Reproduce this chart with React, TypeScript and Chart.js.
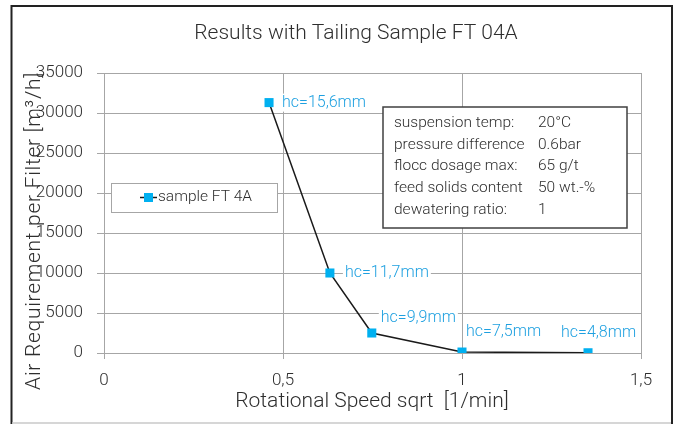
import { useEffect, useRef } from 'react';
import { Chart, registerables } from 'chart.js';

Chart.register(...registerables);

const chartTitle = 'Results with Tailing Sample FT 04A';
const xAxisTitle = 'Rotational Speed sqrt  [1/min]';
const yAxisTitle = 'Air Requirement per Filter [m³/h]';
const seriesName = 'sample FT 4A';
const speedSqrt = [0.461, 0.631, 0.748, 1.0, 1.352];
const airRequirement = [31300, 10000, 2500, 120, 30];
const cakeHeights = ['hc=15,6mm', 'hc=11,7mm', 'hc=9,9mm', 'hc=7,5mm', 'hc=4,8mm'];
const xMin = 0;
const xMax = 1.5;
const xStep = 0.5;
const yMin = 0;
const yMax = 35000;
const yStep = 5000;
const infoLabels = ['suspension temp:', 'pressure difference', 'flocc dosage max:', 'feed solids content', 'dewatering ratio:'];
const infoValues = ['20°C', '0.6bar', '65 g/t', '50 wt.-%', '1'];

const FONT = 'Roboto, "Noto Sans", sans-serif';
const W = '300';
const TEXT = '#2e2e2e';
const GRID = '#a6a6a6';
const MARK = '#00b0f0';
const LABEL = '#1ea0e0';

// label placement relative to each point (style only)
const labelOffsets = [
  [13, 0],
  [15, 0],
  [9, -15],
  [4, -20],
  [-27, -20],
];

const decorPlugin = {
  id: 'decor',
  beforeDraw(chart: any) {
    const ctx = chart.ctx;
    ctx.save();
    ctx.fillStyle = '#ffffff';
    ctx.fillRect(0, 0, chart.width, chart.height);
    ctx.restore();
  },
  afterDatasetsDraw(chart: any) {
    const ctx = chart.ctx;
    const area = chart.chartArea;
    const meta = chart.getDatasetMeta(0);
    ctx.save();

    // data labels
    ctx.font = `${W} 16px ${FONT}`;
    ctx.textBaseline = 'middle';
    ctx.textAlign = 'left';
    meta.data.forEach((pt: any, i: number) => {
      const [dx, dy] = labelOffsets[i];
      const tx = pt.x + dx;
      const ty = pt.y + dy;
      const w = ctx.measureText(cakeHeights[i]).width;
      ctx.fillStyle = '#ffffff';
      ctx.fillRect(tx - 2, ty - 9, w + 4, 18);
      ctx.fillStyle = LABEL;
      ctx.fillText(cakeHeights[i], tx, ty);
    });

    // legend box
    const ds = chart.data.datasets[0];
    const lx = area.left + 7;
    const ly = area.top + 110;
    ctx.fillStyle = '#ffffff';
    ctx.fillRect(lx, ly, 166, 29);
    ctx.strokeStyle = GRID;
    ctx.lineWidth = 1;
    ctx.strokeRect(lx + 0.5, ly + 0.5, 166, 29);
    const cy = ly + 14.5;
    ctx.strokeStyle = ds.borderColor;
    ctx.lineWidth = 1.5;
    ctx.beginPath();
    ctx.moveTo(lx + 29, cy);
    ctx.lineTo(lx + 46, cy);
    ctx.stroke();
    ctx.fillStyle = ds.pointBackgroundColor;
    ctx.fillRect(lx + 33, cy - 4.5, 9, 9);
    ctx.fillStyle = TEXT;
    ctx.font = `${W} 15.5px ${FONT}`;
    ctx.textAlign = 'left';
    ctx.fillText(ds.label, lx + 47, cy);

    // info box
    const bx = area.left + 279;
    const by = area.top + 34;
    const bw = 244;
    const bh = 121;
    ctx.fillStyle = '#ffffff';
    ctx.fillRect(bx, by, bw, bh);
    ctx.strokeStyle = '#404040';
    ctx.lineWidth = 1.5;
    ctx.strokeRect(bx, by, bw, bh);
    ctx.fillStyle = TEXT;
    ctx.font = `${W} 15.5px ${FONT}`;
    infoLabels.forEach((lab, i) => {
      const yy = by + 16 + i * 21.7;
      ctx.fillText(lab, bx + 11, yy);
      ctx.fillText(infoValues[i], bx + 155, yy);
    });

    ctx.restore();
  },
  afterDraw(chart: any) {
    const ctx = chart.ctx;
    const area = chart.chartArea;
    ctx.save();
    ctx.fillStyle = TEXT;
    ctx.textAlign = 'center';
    ctx.textBaseline = 'middle';
    ctx.font = `${W} 21px ${FONT}`;
    ctx.fillText(chartTitle, 356, 34);
    ctx.fillText(xAxisTitle, 372, area.bottom + 49);
    ctx.save();
    ctx.translate(35, 231);
    ctx.rotate(-Math.PI / 2);
    (ctx as any).letterSpacing = '0.7px';
    ctx.fillText(yAxisTitle, 0, 0);
    ctx.restore();

    // frame
    ctx.strokeStyle = '#222222';
    ctx.lineWidth = 2;
    ctx.beginPath();
    ctx.moveTo(11.5, 424);
    ctx.lineTo(11.5, 6);
    ctx.lineTo(672, 6);
    ctx.lineTo(672, 424);
    ctx.stroke();
    ctx.strokeStyle = '#c8c8c8';
    ctx.lineWidth = 1.5;
    ctx.beginPath();
    ctx.moveTo(12, 423);
    ctx.lineTo(671, 423);
    ctx.stroke();
    ctx.restore();
  },
};

export default function App() {
  const ref = useRef<HTMLCanvasElement>(null);
  useEffect(() => {
    if (!ref.current) return;
    const chart = new Chart(ref.current, {
      type: 'line',
      data: {
        datasets: [
          {
            label: seriesName,
            data: speedSqrt.map((x, i) => ({ x, y: airRequirement[i] })),
            borderColor: '#1a1a1a',
            borderWidth: 1.5,
            pointStyle: 'rect',
            pointRadius: 6.4,
            pointBorderWidth: 0,
            pointBackgroundColor: MARK,
            pointBorderColor: MARK,
            tension: 0,
            fill: false,
          },
        ],
      },
      options: {
        responsive: false,
        animation: false,
        layout: { padding: { top: 73, right: 35, left: 0, bottom: 0 } },
        plugins: {
          legend: { display: false },
          tooltip: { enabled: false },
          title: { display: false },
        },
        scales: {
          x: {
            type: 'linear',
            min: xMin,
            max: xMax,
            grid: { color: GRID, lineWidth: 1, tickLength: 6, drawTicks: true },
            border: { color: GRID, width: 1 },
            ticks: {
              stepSize: xStep,
              color: TEXT,
              font: { family: FONT, size: 17, weight: W },
              padding: 12,
              maxRotation: 0,
              callback: (v: any) => String(v).replace('.', ','),
            },
            afterFit: (s: any) => {
              s.height = 71;
            },
          },
          y: {
            type: 'linear',
            min: yMin,
            max: yMax,
            grid: { color: GRID, lineWidth: 1, tickLength: 7 },
            border: { color: GRID, width: 1 },
            ticks: {
              stepSize: yStep,
              color: TEXT,
              font: { family: FONT, size: 17, weight: W },
              padding: 14,
              callback: (v: any) => String(v),
            },
            afterFit: (s: any) => {
              s.width = 104;
            },
          },
        },
      },
      plugins: [decorPlugin],
    });
    return () => chart.destroy();
  }, []);
  return (
    <div style={{ position: 'fixed', left: 0, top: 0, width: 676, height: 424 }}>
      <canvas ref={ref} width={676} height={424} style={{ display: 'block' }} />
    </div>
  );
}
